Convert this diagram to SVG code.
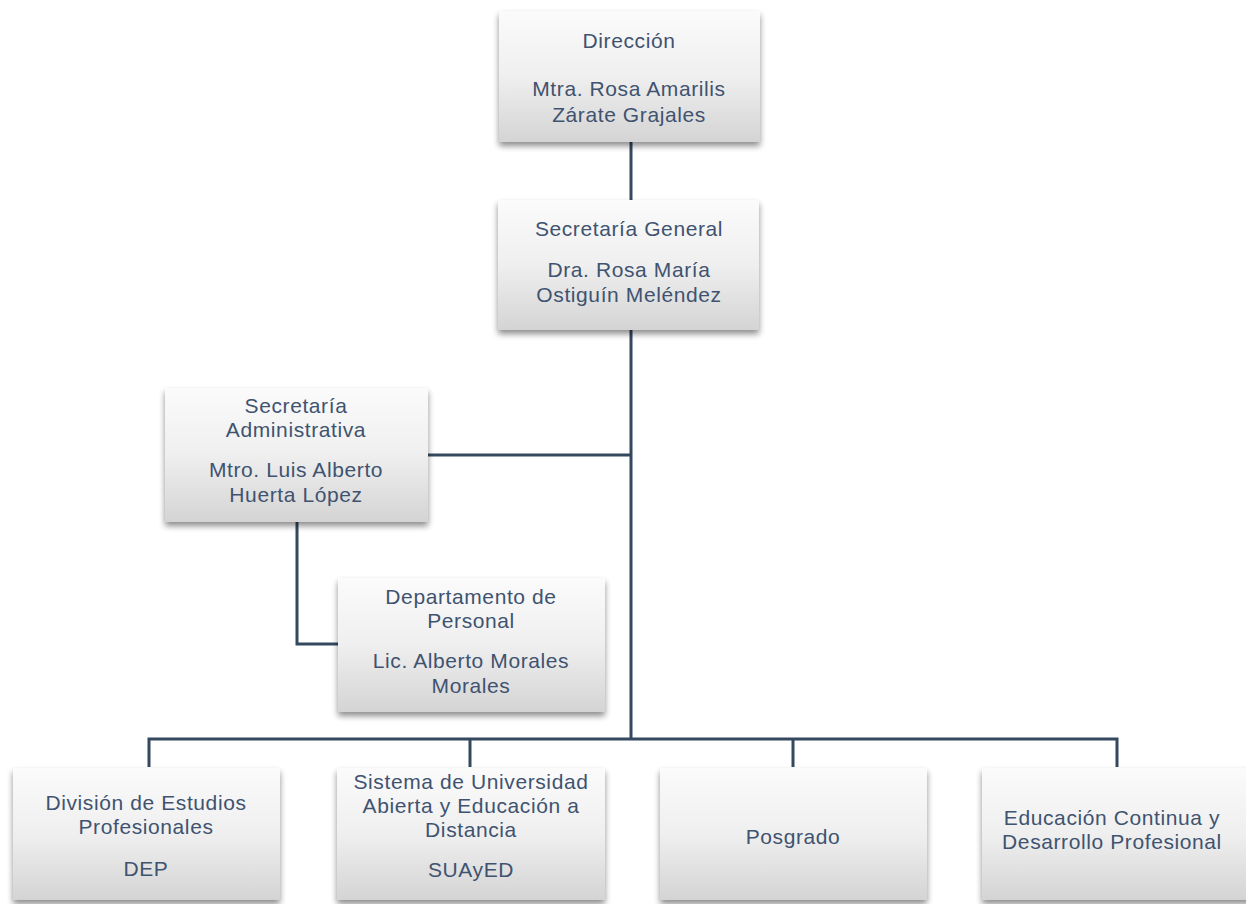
<svg xmlns="http://www.w3.org/2000/svg" width="1246" height="904" viewBox="0 0 1246 904">
<defs>
<linearGradient id="g" x1="0" y1="0" x2="0" y2="1">
<stop offset="0" stop-color="#fbfbfb"/>
<stop offset="0.5" stop-color="#efefef"/>
<stop offset="1" stop-color="#d4d4d4"/>
</linearGradient>
<filter id="sh" x="-10%" y="-10%" width="120%" height="130%">
<feGaussianBlur in="SourceAlpha" stdDeviation="3"/>
<feOffset dx="0" dy="4" result="b"/>
<feComponentTransfer><feFuncA type="linear" slope="0.45"/></feComponentTransfer>
<feMerge><feMergeNode/><feMergeNode in="SourceGraphic"/></feMerge>
</filter>
</defs>
<style>
.box{fill:url(#g);filter:url(#sh)}
.t{font-family:"Liberation Sans",Arial,sans-serif;font-size:21px;letter-spacing:0.6px;fill:#3f5370;text-anchor:middle}
.c{stroke:#34495f;stroke-width:3;fill:none}
</style>
<rect width="1246" height="904" fill="#ffffff"/>
<g id="connectors">
<path class="c" d="M631 142V200"/>
<path class="c" d="M631 330V739"/>
<path class="c" d="M428 455H631"/>
<path class="c" d="M297 522V644H338"/>
<path class="c" d="M149 767V739H1117V767"/>
<path class="c" d="M470 739V767"/>
<path class="c" d="M793 739V767"/>
</g>
<g id="direccion">
<rect class="box" x="499" y="11" width="261" height="131"/>
<text class="t" x="629" y="48">Dirección</text>
<text class="t" x="629" y="96">Mtra. Rosa Amarilis</text>
<text class="t" x="629" y="122">Zárate Grajales</text>
</g>
<g id="secretaria-general">
<rect class="box" x="498" y="200" width="261" height="130"/>
<text class="t" x="629" y="236">Secretaría General</text>
<text class="t" x="629" y="277">Dra. Rosa María</text>
<text class="t" x="629" y="302">Ostiguín Meléndez</text>
</g>
<g id="secretaria-administrativa">
<rect class="box" x="165" y="388" width="263" height="134"/>
<text class="t" x="296" y="413">Secretaría</text>
<text class="t" x="296" y="437">Administrativa</text>
<text class="t" x="296" y="477">Mtro. Luis Alberto</text>
<text class="t" x="296" y="502">Huerta López</text>
</g>
<g id="departamento-personal">
<rect class="box" x="338" y="578" width="267" height="134"/>
<text class="t" x="471" y="604">Departamento de</text>
<text class="t" x="471" y="628">Personal</text>
<text class="t" x="471" y="668">Lic. Alberto Morales</text>
<text class="t" x="471" y="693">Morales</text>
</g>
<g id="dep">
<rect class="box" x="13" y="768" width="267" height="132"/>
<text class="t" x="146" y="810">División de Estudios</text>
<text class="t" x="146" y="834">Profesionales</text>
<text class="t" x="146" y="876">DEP</text>
</g>
<g id="suayed">
<rect class="box" x="337" y="768" width="268" height="132"/>
<text class="t" x="471" y="789">Sistema de Universidad</text>
<text class="t" x="471" y="813">Abierta y Educación a</text>
<text class="t" x="471" y="837">Distancia</text>
<text class="t" x="471" y="877">SUAyED</text>
</g>
<g id="posgrado">
<rect class="box" x="660" y="768" width="267" height="132"/>
<text class="t" x="793" y="844">Posgrado</text>
</g>
<g id="educacion-continua">
<rect class="box" x="982" y="768" width="270" height="132"/>
<text class="t" x="1112" y="825">Educación Continua y</text>
<text class="t" x="1112" y="849">Desarrollo Profesional</text>
</g>
</svg>
